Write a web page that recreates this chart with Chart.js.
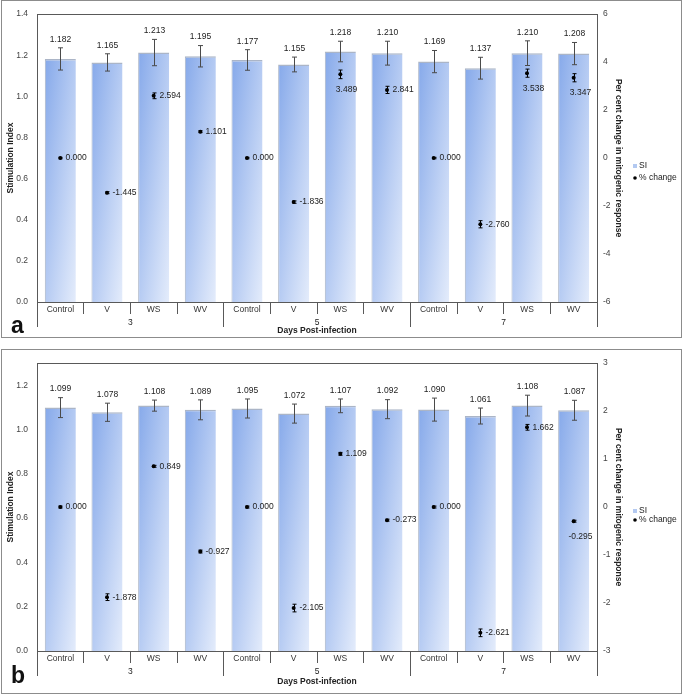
<!DOCTYPE html>
<html>
<head>
<meta charset="utf-8">
<script src="https://cdn.jsdelivr.net/npm/chart.js@4.4.0/dist/chart.umd.min.js"></script>
<style>
  body { margin: 0; background: #fff; }
  .frame { position: absolute; left: 1px; width: 679px; border: 1px solid #8c8c8c; }
  .panel { position: absolute; left: 0; width: 684px; height: 338px; }
  .tag { position: absolute; left: 11px; font: bold 23px "Liberation Sans", Arial, sans-serif; line-height: 23px; color: #111; }
</style>
</head>
<body>
<div class="frame" style="top:0;height:336px"></div>
<div class="frame" style="top:349px;height:343px"></div>
<div class="panel" style="top:0"><canvas id="chartA"></canvas></div>
<div class="panel" style="top:349px"><canvas id="chartB"></canvas></div>
<div class="tag" style="top:314px">a</div>
<div class="tag" style="top:664px">b</div>
<script>
const categories = ['Control', 'V', 'WS', 'WV', 'Control', 'V', 'WS', 'WV', 'Control', 'V', 'WS', 'WV'];
const days = ['3', '5', '7'];

// panel a
const siA = [1.182, 1.165, 1.213, 1.195, 1.177, 1.155, 1.218, 1.210, 1.169, 1.137, 1.210, 1.208];
const siErrA = [0.054, 0.042, 0.064, 0.052, 0.050, 0.036, 0.050, 0.058, 0.054, 0.053, 0.060, 0.054];
const pctA = [0.000, -1.445, 2.594, 1.101, 0.000, -1.836, 3.489, 2.841, 0.000, -2.760, 3.538, 3.347];
const pctErrA = [0.03, 0.04, 0.12, 0.04, 0.03, 0.05, 0.18, 0.15, 0.03, 0.15, 0.17, 0.17];
const labelPosA = ['r', 'r', 'r', 'r', 'r', 'r', 'b', 'r', 'r', 'r', 'b', 'b'];

// panel b
const siB = [1.099, 1.078, 1.108, 1.089, 1.095, 1.072, 1.107, 1.092, 1.090, 1.061, 1.108, 1.087];
const siErrB = [0.045, 0.041, 0.025, 0.045, 0.043, 0.043, 0.031, 0.043, 0.052, 0.036, 0.047, 0.045];
const pctB = [0.000, -1.878, 0.849, -0.927, 0.000, -2.105, 1.109, -0.273, 0.000, -2.621, 1.662, -0.295];
const pctErrB = [0.02, 0.07, 0.02, 0.03, 0.02, 0.08, 0.03, 0.02, 0.02, 0.08, 0.06, 0.02];
const labelPosB = ['r', 'r', 'r', 'r', 'r', 'r', 'r', 'r', 'r', 'r', 'r', 'b'];

const FONT = '"Liberation Sans", Arial, sans-serif';
const axisColor = '#595959';
const barPct = 0.665;
Chart.defaults.font.family = FONT;

// diagonal gradient per bar, dark top-left -> light bottom-right
function barFill(c) {
  const chart = c.chart;
  const area = chart.chartArea;
  if (!area || c.type !== 'data') return '#b8cdf3';
  const xs = chart.scales.x, ys = chart.scales.y;
  const half = (area.right - area.left) / categories.length * barPct / 2;
  const left = xs.getPixelForValue(c.dataIndex) - half;
  const top = ys.getPixelForValue(c.raw);
  const w = 2 * half, h = Math.max(ys.bottom - top, 1);
  const gx = 1 / (2 * w), gy = 1 / (2 * h), g2 = gx * gx + gy * gy;
  const grad = chart.ctx.createLinearGradient(left, top, left + gx / g2, top + gy / g2);
  grad.addColorStop(0, '#86a9ea');
  grad.addColorStop(1, '#e4ecfb');
  return grad;
}

const decor = {
  id: 'decor',
  afterDraw(chart, args, o) {
    const {ctx, chartArea: a, scales: {x, y, y1}} = chart;
    const n = categories.length, w = (a.right - a.left) / n;
    ctx.save();

    // plot top edge and category separators
    ctx.strokeStyle = axisColor;
    ctx.lineWidth = 1;
    ctx.beginPath();
    ctx.moveTo(a.left, Math.round(a.top) + 0.5);
    ctx.lineTo(a.right, Math.round(a.top) + 0.5);
    for (let i = 0; i <= n; i++) {
      const px = Math.floor(a.left + i * w) + 0.5;
      ctx.moveTo(px, a.bottom);
      ctx.lineTo(px, a.bottom + (i % 4 === 0 ? 25 : 12));
    }
    ctx.stroke();

    ctx.font = '8.5px ' + FONT;
    ctx.textBaseline = 'middle';
    ctx.textAlign = 'center';
    ctx.fillStyle = '#222';
    days.forEach((d, g) => ctx.fillText(d, a.left + (g * 4 + 2) * w, a.bottom + 20.5));

    // SI error bars and labels
    o.si.forEach((v, i) => {
      const px = Math.round(x.getPixelForValue(i)) + 0.5;
      const t = y.getPixelForValue(v + o.siErr[i]);
      const b = y.getPixelForValue(v - o.siErr[i]);
      ctx.strokeStyle = '#4a4a4a';
      ctx.beginPath();
      ctx.moveTo(px, t); ctx.lineTo(px, b);
      ctx.moveTo(px - 2.5, t); ctx.lineTo(px + 2.5, t);
      ctx.moveTo(px - 2.5, b); ctx.lineTo(px + 2.5, b);
      ctx.stroke();
      ctx.fillStyle = '#222';
      ctx.textAlign = 'center';
      ctx.fillText(v.toFixed(3), px, t - 8.5);
    });

    // % change error bars and labels
    o.pct.forEach((v, i) => {
      const px = Math.round(x.getPixelForValue(i)) + 0.5;
      const py = y1.getPixelForValue(v);
      const t = y1.getPixelForValue(v + o.pctErr[i]);
      const b = y1.getPixelForValue(v - o.pctErr[i]);
      ctx.strokeStyle = '#000';
      ctx.beginPath();
      ctx.moveTo(px, t); ctx.lineTo(px, b);
      ctx.moveTo(px - 2, t); ctx.lineTo(px + 2, t);
      ctx.moveTo(px - 2, b); ctx.lineTo(px + 2, b);
      ctx.stroke();
      ctx.fillStyle = '#222';
      if (o.pos[i] === 'b') {
        ctx.textAlign = 'center';
        ctx.fillText(v.toFixed(3), px + 6, py + 15);
      } else {
        ctx.textAlign = 'left';
        ctx.fillText(v.toFixed(3), px + 5, py);
      }
    });

    // legend
    const lx = 633;
    ctx.fillStyle = '#b3c9f1';
    ctx.fillRect(lx, o.legendY[0] - 2, 4, 4);
    ctx.fillStyle = '#000';
    ctx.beginPath();
    ctx.arc(lx + 2, o.legendY[1], 1.8, 0, Math.PI * 2);
    ctx.fill();
    ctx.fillStyle = '#222';
    ctx.textAlign = 'left';
    ctx.fillText('SI', lx + 6, o.legendY[0]);
    ctx.fillText('% change', lx + 6, o.legendY[1]);
    ctx.restore();
  }
};

function makeChart(id, si, siErr, pct, pctErr, pos, leftMax, rightLim, rightStep, titlePad, legendY) {
  return new Chart(document.getElementById(id), {
    type: 'bar',
    data: {
      labels: categories,
      datasets: [
        {
          type: 'line',
          label: '% change',
          data: pct,
          yAxisID: 'y1',
          showLine: false,
          pointRadius: 2,
          pointBorderWidth: 0,
          pointBackgroundColor: '#000',
          order: 1
        },
        {
          label: 'SI',
          data: si,
          yAxisID: 'y',
          backgroundColor: barFill,
          borderColor: 'rgba(150,162,185,0.8)',
          borderWidth: {top: 1.5, left: 1, right: 0, bottom: 0},
          borderSkipped: false,
          barPercentage: barPct,
          categoryPercentage: 1.0,
          order: 2
        }
      ]
    },
    options: {
      responsive: true,
      maintainAspectRatio: false,
      animation: false,
      events: [],
      layout: { padding: { top: 8, left: 0, right: 0, bottom: 0 } },
      plugins: {
        legend: { display: false },
        tooltip: { enabled: false },
        decor: { si, siErr, pct, pctErr, pos, legendY }
      },
      scales: {
        x: {
          grid: { display: false, drawTicks: false },
          border: { display: true, color: axisColor },
          ticks: { autoSkip: false, maxRotation: 0, padding: 3, color: '#333', font: { size: 8.5 } },
          title: {
            display: true, text: 'Days Post-infection', color: '#222',
            font: { size: 8.5, weight: 'bold' }, padding: { top: 0, bottom: titlePad }
          },
          afterFit: s => { s.height = 36; }
        },
        y: {
          position: 'left',
          min: 0,
          max: leftMax,
          grid: { display: false, drawTicks: false },
          border: { display: true, color: axisColor },
          ticks: {
            stepSize: 0.2, includeBounds: false, padding: 9, color: '#444', font: { size: 8.5 },
            callback: v => v.toFixed(1)
          },
          title: {
            display: true, text: 'Stimulation Index', color: '#222',
            font: { size: 8.5, weight: 'bold' }, padding: { top: 6, bottom: 0 }
          },
          afterFit: s => { s.width = 37; }
        },
        y1: {
          position: 'right',
          min: -rightLim,
          max: rightLim,
          grid: { display: false, drawTicks: false },
          border: { display: true, color: axisColor },
          ticks: { stepSize: rightStep, padding: 6, color: '#444', font: { size: 8.5 } },
          title: {
            display: true, text: 'Per cent change in mitogenic response', color: '#222',
            font: { size: 8.5, weight: 'bold' }, padding: { top: 61, bottom: 0 }
          },
          afterFit: s => { s.width = 87; }
        }
      }
    },
    plugins: [decor]
  });
}

makeChart('chartA', siA, siErrA, pctA, pctErrA, labelPosA, 1.4, 6, 2, 2, [166, 178]);
makeChart('chartB', siB, siErrB, pctB, pctErrB, labelPosB, 1.3, 3, 1, 0, [162, 171]);
</script>
</body>
</html>
